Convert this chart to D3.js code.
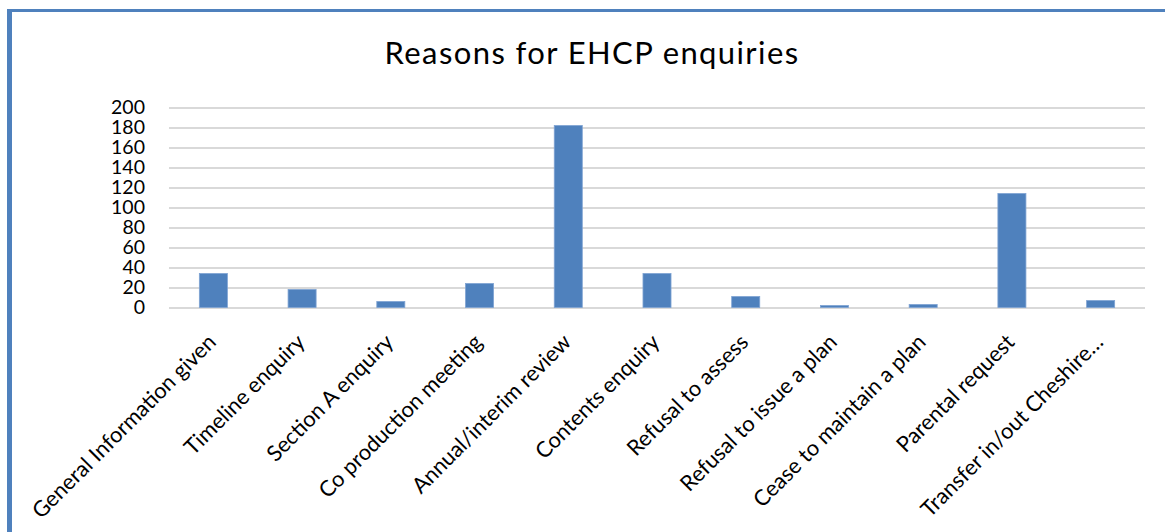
<!DOCTYPE html>
<html>
<head>
<meta charset="utf-8">
<script src="https://cdn.jsdelivr.net/npm/d3@7"></script>
<style>
  html, body { margin: 0; padding: 0; background: #fff; }
  svg { display: block; }
  text { font-family: Lato, "Open Sans", sans-serif; fill: #000; }
</style>
</head>
<body>
<svg id="chart" width="1165" height="532"></svg>
<script>
// Enquiry reasons and their counts
const categories = [
  "General Information given",
  "Timeline enquiry",
  "Section A enquiry",
  "Co production meeting",
  "Annual/interim review",
  "Contents enquiry",
  "Refusal to assess",
  "Refusal to issue a plan",
  "Cease to maintain a plan",
  "Parental request",
  "Transfer in/out Cheshire…"
];
const enquiries = [34, 18, 6, 24, 182, 34, 11, 2, 3, 114, 7];
const yTicks = [0, 20, 40, 60, 80, 100, 120, 140, 160, 180, 200];
const chartTitle = "Reasons for EHCP enquiries";

const svg = d3.select("#chart");
const W = 1165, H = 532;

// frame of the chart box
const blue = "#4f81bd";
svg.append("rect").attr("x", 0).attr("y", 0).attr("width", W).attr("height", H).attr("fill", "#fff");
svg.append("line").attr("x1", 7).attr("x2", W).attr("y1", 10.5).attr("y2", 10.5)
  .attr("stroke", blue).attr("stroke-width", 3);
svg.append("line").attr("x1", 9.5).attr("x2", 9.5).attr("y1", 9).attr("y2", H)
  .attr("stroke", blue).attr("stroke-width", 5);

const plot = { left: 169, right: 1145, top: 107.5, bottom: 307.5 };

const x = d3.scaleBand()
  .domain(categories)
  .range([plot.left, plot.right])
  .paddingInner(0.684)
  .paddingOuter(0.342);

const y = d3.scaleLinear()
  .domain([0, 200])
  .range([plot.bottom, plot.top]);

// title
svg.append("text")
  .attr("x", 592)
  .attr("y", 64)
  .attr("text-anchor", "middle")
  .attr("font-size", 31)
  .attr("letter-spacing", 1.4)
  .text(chartTitle);

// horizontal gridlines with value labels
const yAxis = d3.axisLeft(y)
  .tickValues(yTicks)
  .tickSize(-(plot.right - plot.left))
  .tickPadding(24)
  .tickFormat(d3.format("d"));

const gy = svg.append("g")
  .attr("transform", `translate(${plot.left},0)`)
  .call(yAxis);
gy.select(".domain").remove();
gy.selectAll(".tick line").attr("stroke", "#d9d9d9").attr("stroke-width", 2);
gy.selectAll(".tick text")
  .attr("font-size", 19.5)
  .attr("font-family", "Lato, sans-serif")
  .attr("fill", "#000");

// bars
svg.append("g").selectAll("rect")
  .data(categories.map((c, i) => ({ c, v: enquiries[i] })))
  .join("rect")
  .attr("x", d => x(d.c))
  .attr("width", x.bandwidth())
  .attr("y", d => y(d.v))
  .attr("height", d => y(0) - y(d.v))
  .attr("fill", blue)
  .attr("stroke", "#7fa3d3")
  .attr("stroke-width", 0.8);

// category labels, rotated -45°
const xAxis = d3.axisBottom(x).tickSize(0).tickPadding(0);
const gx = svg.append("g")
  .attr("transform", `translate(0,${plot.bottom})`)
  .call(xAxis);
gx.select(".domain").remove();
gx.selectAll(".tick text")
  .attr("font-size", 21.8)
  .attr("font-family", "Lato, sans-serif")
  .attr("fill", "#000")
  .attr("text-anchor", "end")
  .attr("dy", null)
  .attr("y", null)
  .attr("transform", "translate(4,36) rotate(-45)");
</script>
</body>
</html>
